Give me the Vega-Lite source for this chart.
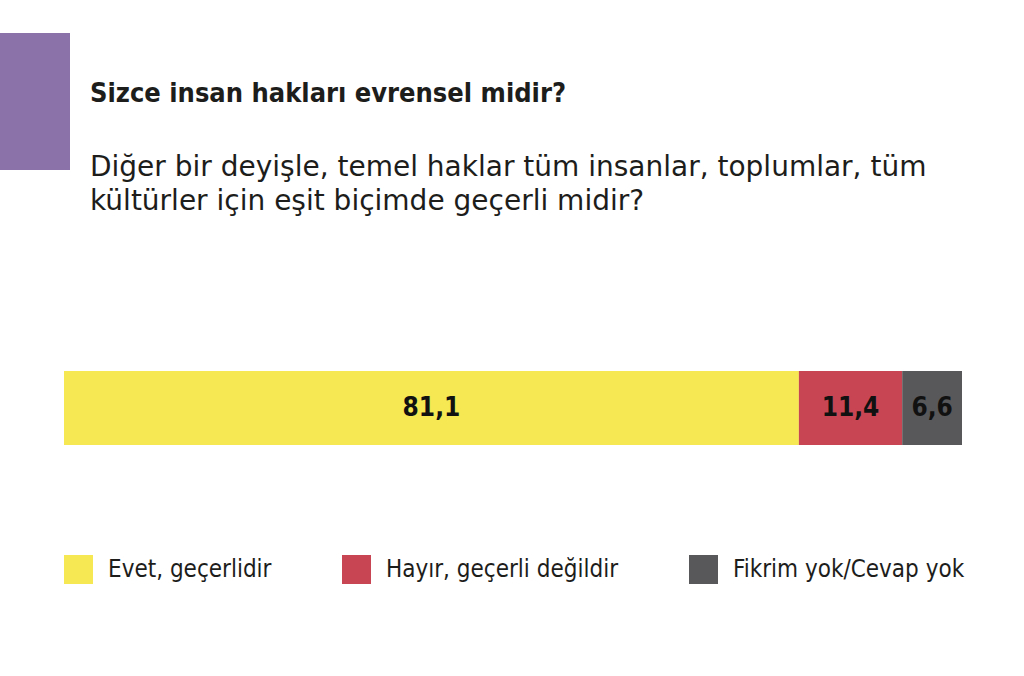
{
  "$schema": "https://vega.github.io/schema/vega-lite/v6.json",
  "description": "Sizce insan hakları evrensel midir? Tek yığılmış çubuk.",
  "width": 898,
  "height": 74,
  "autosize": {"type": "none"},
  "padding": {"left": 64, "top": 371, "right": 62, "bottom": 231},
  "background": "white",
  "title": {
    "text": "Sizce insan hakları evrensel midir?",
    "subtitle": ["Diğer bir deyişle, temel haklar tüm insanlar, toplumlar, tüm", "kültürler için eşit biçimde geçerli midir?"],
    "anchor": "start",
    "frame": "group",
    "dx": 26,
    "dy": 194,
    "offset": 10,
    "font": "DejaVu Sans Condensed, DejaVu Sans, sans-serif",
    "fontSize": 27,
    "fontWeight": "bold",
    "color": "#1d1d1b",
    "subtitleFont": "DejaVu Sans, sans-serif",
    "subtitleFontSize": 28,
    "subtitleColor": "#1d1d1b",
    "subtitleLineHeight": 34,
    "subtitlePadding": 46
  },
  "data": {
    "values": [
      {"soru": "evrensel", "cevap": "Evet, geçerlidir", "oran": 81.1},
      {"soru": "evrensel", "cevap": "Hayır, geçerli değildir", "oran": 11.4},
      {"soru": "evrensel", "cevap": "Fikrim yok/Cevap yok", "oran": 6.6}
    ]
  },
  "layer": [
    {
      "data": {"values": [{"blok": "mor"}]},
      "mark": {"type": "rect", "color": "#8b72a8", "clip": false},
      "encoding": {
        "x": {"value": -64},
        "x2": {"value": 6},
        "y": {"value": -338},
        "y2": {"value": -201}
      }
    },
    {
      "mark": {"type": "bar"},
      "encoding": {
        "y": {"field": "soru", "type": "nominal", "axis": null, "scale": {"paddingInner": 0, "paddingOuter": 0}},
        "x": {"field": "oran", "type": "quantitative", "stack": "zero", "axis": null, "scale": {"domain": [0, 99.1], "nice": false}},
        "order": {"field": "oran", "sort": "descending"},
        "color": {
          "field": "cevap",
          "type": "nominal",
          "scale": {
            "domain": ["Evet, geçerlidir", "Hayır, geçerli değildir", "Fikrim yok/Cevap yok"],
            "range": ["#f5e852", "#c84654", "#58585a"]
          },
          "legend": {
            "title": null,
            "orient": "none",
            "legendX": 0,
            "legendY": 184,
            "direction": "horizontal",
            "padding": 0,
            "symbolType": "square",
            "symbolSize": 841,
            "symbolStrokeWidth": 0,
            "labelFont": "DejaVu Sans Condensed, DejaVu Sans, sans-serif",
            "labelFontSize": 24,
            "labelColor": "#1d1d1b",
            "labelOffset": 15,
            "labelLimit": 400,
            "columnPadding": 70
          }
        }
      }
    },
    {
      "mark": {"type": "text", "font": "DejaVu Sans Condensed, DejaVu Sans, sans-serif", "fontWeight": "bold", "fontSize": 26, "color": "#111111", "baseline": "middle", "align": "center"},
      "encoding": {
        "y": {"field": "soru", "type": "nominal", "axis": null},
        "x": {"field": "oran", "type": "quantitative", "stack": "zero", "bandPosition": 0.5},
        "order": {"field": "oran", "sort": "descending"},
        "text": {"field": "oran", "type": "quantitative", "format": ".1f"}
      }
    }
  ],
  "config": {
    "view": {"stroke": null},
    "locale": {
      "number": {"decimal": ",", "thousands": ".", "grouping": [3], "currency": ["", " TL"]}
    }
  }
}
